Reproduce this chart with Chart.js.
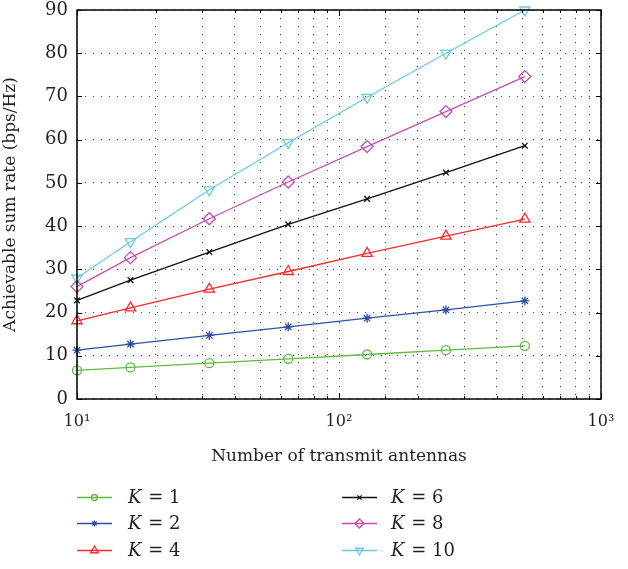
<!DOCTYPE html>
<html>
<head>
<meta charset="utf-8">
<script src="https://cdn.jsdelivr.net/npm/chart.js@4/dist/chart.umd.min.js"></script>
<style>
html,body{margin:0;padding:0;background:#fff;}
canvas{display:block;}
</style>
</head>
<body>
<canvas id="c" width="628" height="569"></canvas>
<script>
const antennas = [10, 16, 32, 64, 128, 256, 512];
const seriesLabels = ['1', '2', '4', '6', '8', '10'];
const k1  = [6.6, 7.3, 8.3, 9.3, 10.3, 11.3, 12.3];
const k2  = [11.3, 12.7, 14.7, 16.7, 18.7, 20.6, 22.7];
const k4  = [18.1, 21.1, 25.4, 29.5, 33.7, 37.7, 41.6];
const k6  = [22.8, 27.5, 34.0, 40.4, 46.3, 52.4, 58.6];
const k8  = [26.0, 32.7, 41.7, 50.2, 58.4, 66.5, 74.6];
const k10 = [28.0, 36.4, 48.4, 59.3, 69.8, 80.0, 90.0];
const yTicks = [0, 10, 20, 30, 40, 50, 60, 70, 80, 90];

const FONT = "'DejaVu Serif', 'Liberation Serif', serif";
const TXT = '#231f20';

const styles = [
  {color: '#5dbb3f', pointStyle: 'circle', radius: 4.5, rot: 0},
  {color: '#2d4fa5', pointStyle: 'star', radius: 4.5, rot: 0},
  {color: '#ff2a2a', pointStyle: 'triangle', radius: 6, rot: 0},
  {color: '#111111', pointStyle: 'crossRot', radius: 4, rot: 0},
  {color: '#c04fb0', pointStyle: 'rectRot', radius: 6, rot: 0},
  {color: '#6ccbd8', pointStyle: 'triangle', radius: 6, rot: 180}
];
const values = [k1, k2, k4, k6, k8, k10];

const datasets = values.map((v, i) => ({
  label: 'K = ' + seriesLabels[i],
  data: antennas.map((x, j) => ({x: x, y: v[j]})),
  borderColor: styles[i].color,
  backgroundColor: 'rgba(0,0,0,0)',
  pointBorderColor: styles[i].color,
  pointBackgroundColor: styles[i].pointStyle === 'star' ? styles[i].color : 'rgba(255,255,255,0)',
  pointStyle: styles[i].pointStyle,
  pointRadius: styles[i].radius,
  pointRotation: styles[i].rot,
  pointBorderWidth: 1.3,
  borderWidth: 1.3,
  tension: 0,
  fill: false,
  clip: false
}));

const sup = {1: '\u00b9', 2: '\u00b2', 3: '\u00b3'};

const boxPlugin = {
  id: 'box',
  afterDatasetsDraw(chart) {
    const ctx = chart.ctx, a = chart.chartArea;
    const xs = chart.scales.x, ys = chart.scales.y;
    ctx.save();
    ctx.strokeStyle = '#000';
    ctx.lineWidth = 1;
    ctx.beginPath();
    ys.ticks.forEach(t => {
      const y = Math.round(ys.getPixelForValue(t.value)) + 0.5;
      ctx.moveTo(a.left, y); ctx.lineTo(a.left + 5, y);
      ctx.moveTo(a.right, y); ctx.lineTo(a.right - 5, y);
    });
    xs.ticks.forEach(t => {
      const l = Math.log10(t.value);
      const major = Math.abs(l - Math.round(l)) < 1e-9;
      const len = major ? 6 : 3;
      const x = Math.round(xs.getPixelForValue(t.value)) + 0.5;
      ctx.moveTo(x, a.top); ctx.lineTo(x, a.top + len);
      ctx.moveTo(x, a.bottom); ctx.lineTo(x, a.bottom - len);
    });
    ctx.stroke();
    ctx.lineWidth = 1.5;
    ctx.strokeRect(a.left, a.top, a.right - a.left, a.bottom - a.top);
    ctx.restore();
  },
  afterDraw(chart) {
    const ctx = chart.ctx;
    const cols = [{x0: 77, tx: 128}, {x0: 342, tx: 391}];
    const rows = [497, 523, 550];
    chart.data.datasets.forEach((ds, i) => {
      const c = cols[i < 3 ? 0 : 1];
      const y = rows[i % 3];
      ctx.save();
      ctx.strokeStyle = ds.borderColor;
      ctx.lineWidth = 1.3;
      ctx.beginPath();
      ctx.moveTo(c.x0, y + 0.5); ctx.lineTo(c.x0 + 35, y + 0.5);
      ctx.stroke();
      const st = styles[i];
      ctx.fillStyle = ds.pointBackgroundColor;
      ctx.strokeStyle = ds.pointBorderColor;
      ctx.lineWidth = 1.3;
      Chart.helpers.drawPoint(ctx, {pointStyle: st.pointStyle, radius: Math.max(3, st.radius - 1.5), rotation: st.rot, borderWidth: 1.3}, c.x0 + 17.5, y + 0.5);
      ctx.fillStyle = TXT;
      ctx.textBaseline = 'middle';
      ctx.font = "italic 18px " + FONT;
      ctx.fillText('K', c.tx, y + 1);
      const kw = ctx.measureText('K').width;
      ctx.font = "18px " + FONT;
      ctx.fillText(' = ' + seriesLabels[i], c.tx + kw + 1, y + 1);
      ctx.restore();
    });
  }
};

new Chart(document.getElementById('c'), {
  type: 'line',
  data: {datasets: datasets},
  options: {
    responsive: false,
    animation: false,
    devicePixelRatio: 1,
    layout: {padding: {top: 10, right: 27, bottom: 102, left: 0}},
    plugins: {legend: {display: false}, tooltip: {enabled: false}},
    scales: {
      x: {
        type: 'logarithmic',
        min: 10, max: 1000,
        afterFit(s) { s.height = 68; s.paddingLeft = 0; s.paddingRight = 0; },
        ticks: {
          autoSkip: false, maxRotation: 0, padding: 13,
          color: TXT, font: {family: FONT, size: 16},
          callback(value) {
            const l = Math.log10(value);
            if (Math.abs(l - Math.round(l)) < 1e-9) return '10' + sup[Math.round(l)];
            return '';
          }
        },
        grid: {color: '#444', lineWidth: 1, drawTicks: false},
        border: {display: false, dash: [1, 7]},
        title: {display: true, text: 'Number of transmit antennas', color: TXT, font: {family: FONT, size: 17}, padding: {top: 4, bottom: 0}}
      },
      y: {
        min: 0, max: 90,
        afterFit(s) { s.width = 77; s.paddingTop = 0; s.paddingBottom = 0; },
        afterBuildTicks(s) { s.ticks = yTicks.map(v => ({value: v})); },
        ticks: {padding: 9, color: TXT, font: {family: FONT, size: 18}},
        grid: {color: '#444', lineWidth: 1, drawTicks: false},
        border: {display: false, dash: [1, 7]},
        title: {display: true, text: 'Achievable sum rate (bps/Hz)', color: TXT, font: {family: FONT, size: 17}, padding: {top: 0, bottom: 2}}
      }
    }
  },
  plugins: [boxPlugin]
});
</script>
</body>
</html>
